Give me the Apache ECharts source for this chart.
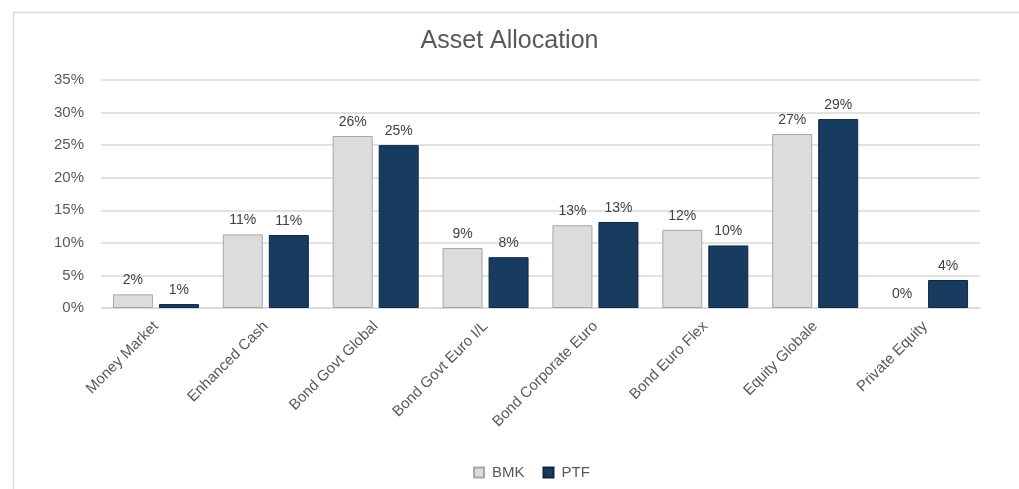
<!DOCTYPE html>
<html>
<head>
<meta charset="utf-8">
<script src="https://cdn.jsdelivr.net/npm/echarts@6/dist/echarts.min.js"></script>
<style>
html,body{margin:0;padding:0;background:#fff;}
#chart{width:1019px;height:489px;}
</style>
</head>
<body>
<div id="chart"></div>
<script>
const categories = ['Money Market','Enhanced Cash','Bond Govt Global','Bond Govt Euro I/L','Bond Corporate Euro','Bond Euro Flex','Equity Globale','Private Equity'];
const bmk = [2.1, 11.3, 26.4, 9.2, 12.7, 12.0, 26.7, 0];
const ptf = [0.6, 11.2, 25.0, 7.8, 13.2, 9.6, 29.0, 4.3];
const yTicks = [0, 5, 10, 15, 20, 25, 30, 35];

const chart = echarts.init(document.getElementById('chart'), null, {renderer:'canvas'});
const labelCfg = {
  show: true, position: 'top', distance: 7,
  color: '#404040', fontSize: 14, fontFamily: 'Liberation Sans, Arial, sans-serif',
  formatter: p => Math.round(p.value) + '%'
};
const hideZeroBorder = arr => arr.map(v => v === 0 ? {value: v, itemStyle: {borderWidth: 0}} : v);
chart.setOption({
  animation: false,
  backgroundColor: '#fff',
  graphic: [{
    type: 'rect', left: 11, top: 10, z: -1,
    shape: {x: 0, y: 0, width: 1100, height: 600},
    style: {fill: 'none', stroke: '#d9d9d9', lineWidth: 1.5}
  }],
  title: {
    text: 'Asset Allocation', left: 'center', top: 24,
    textStyle: {color: '#595959', fontSize: 25, fontWeight: 'normal', fontFamily: 'Liberation Sans, Arial, sans-serif'}
  },
  legend: {
    bottom: 4, left: 468, itemWidth: 10, itemHeight: 10, itemGap: 18, icon: 'rect',
    textStyle: {color: '#595959', fontSize: 15, padding: [0, 0, 0, 3], fontFamily: 'Liberation Sans, Arial, sans-serif'},
    data: ['BMK', 'PTF']
  },
  grid: {left: 101, right: 39, top: 80, bottom: 181},
  xAxis: {
    type: 'category', data: categories,
    axisTick: {show: false},
    axisLine: {lineStyle: {color: '#d9d9d9', width: 1.5}},
    axisLabel: {rotate: 45, color: '#595959', fontSize: 15, margin: 16, fontFamily: 'Liberation Sans, Arial, sans-serif', interval: 0}
  },
  yAxis: {
    type: 'value', min: yTicks[0], max: yTicks[yTicks.length-1], interval: 5,
    axisLine: {show: false}, axisTick: {show: false},
    splitLine: {lineStyle: {color: '#d9d9d9', width: 1.5}},
    axisLabel: {color: '#595959', fontSize: 15, margin: 17, fontFamily: 'Liberation Sans, Arial, sans-serif', formatter: v => v + '%'}
  },
  series: [
    {name: 'BMK', type: 'bar', data: hideZeroBorder(bmk), barWidth: 40, barGap: '15%',
     itemStyle: {color: '#dcdcdc', borderColor: '#a6a6a6', borderWidth: 1}, label: labelCfg},
    {name: 'PTF', type: 'bar', data: hideZeroBorder(ptf), barWidth: 40, barGap: '15%',
     itemStyle: {color: '#183b60', borderColor: '#0f2740', borderWidth: 1}, label: labelCfg}
  ]
});
</script>
</body>
</html>
